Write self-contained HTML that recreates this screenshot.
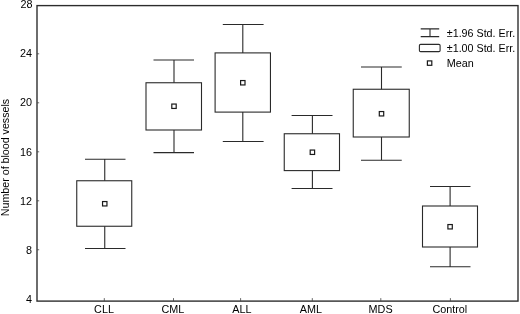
<!DOCTYPE html>
<html><head><meta charset="utf-8"><title>Number of blood vessels</title>
<style>html,body{margin:0;padding:0;background:#fff}svg{display:block}text{font-family:"Liberation Sans",Arial,sans-serif;font-size:10.8px;fill:#000}</style></head>
<body>
<svg width="520" height="314" viewBox="0 0 520 314">
<rect width="520" height="314" fill="#fff"/>
<rect x="37" y="5.6" width="481.0" height="295.50" fill="none" stroke="#2c2c2c" stroke-width="1.38"/>
<g stroke="#444" stroke-width="0.8">
<line x1="37" y1="53.8" x2="39.2" y2="53.8"/>
<line x1="37" y1="102.8" x2="39.2" y2="102.8"/>
<line x1="37" y1="151.8" x2="39.2" y2="151.8"/>
<line x1="37" y1="200.8" x2="39.2" y2="200.8"/>
<line x1="37" y1="249.75" x2="39.2" y2="249.75"/>
<line x1="104.3" y1="301.1" x2="104.3" y2="298.1"/>
<line x1="173.5" y1="301.1" x2="173.5" y2="298.1"/>
<line x1="240.6" y1="301.1" x2="240.6" y2="298.1"/>
<line x1="312.3" y1="301.1" x2="312.3" y2="298.1"/>
<line x1="380.8" y1="301.1" x2="380.8" y2="298.1"/>
<line x1="450.4" y1="301.1" x2="450.4" y2="298.1"/>
</g>
<g text-anchor="end">
<text x="32.6" y="8.00">28</text>
<text x="32" y="56.80">24</text>
<text x="32" y="106.10">20</text>
<text x="32" y="156.00">16</text>
<text x="32" y="204.70">12</text>
<text x="32" y="254.00">8</text>
<text x="32" y="303.30">4</text>
</g>
<text transform="translate(9.1,157.5) rotate(-90)" text-anchor="middle" textLength="117.3" lengthAdjust="spacingAndGlyphs">Number of blood vessels</text>
<g text-anchor="middle">
<text x="104.0" y="313">CLL</text>
<text x="172.9" y="313">CML</text>
<text x="241.8" y="313">ALL</text>
<text x="310.8" y="313">AML</text>
<text x="380.6" y="313">MDS</text>
<text x="449.8" y="313">Control</text>
</g>
<g fill="none" stroke="#2a2a2a" stroke-width="1.1">
<path d="M85 159.25H125.5M104.75 159.25V180.75M104.75 226.25V248.5M85 248.5H125.5"/>
<rect x="76.75" y="180.75" width="55.00" height="45.50"/>
<path d="M153.5 60H194M174 60V82.75M174 130V152.6M153.5 152.6H194"/>
<rect x="146" y="82.75" width="55.50" height="47.25"/>
<path d="M222.8 24.5H263.6M242.8 24.5V52.9M242.8 112.1V141.5M222.8 141.5H263.6"/>
<rect x="215.1" y="52.9" width="55.35" height="59.20"/>
<path d="M291.6 115.5H332.5M312.4 115.5V133.75M312.4 170.6V188.5M291.6 188.5H332.5"/>
<rect x="284.25" y="133.75" width="55.25" height="36.85"/>
<path d="M361 67H401.75M381.5 67V89.25M381.5 137V160.25M361 160.25H401.75"/>
<rect x="353.25" y="89.25" width="56.00" height="47.75"/>
<path d="M430 186.5H470.5M450.1 186.5V206M450.1 247V266.75M430 266.75H470.5"/>
<rect x="422.5" y="206" width="55.00" height="41.00"/>
</g>
<g fill="#fff" stroke="#1a1a1a" stroke-width="1.2">
<rect x="102.55" y="201.55" width="4.4" height="4.4"/>
<rect x="171.80" y="104.05" width="4.4" height="4.4"/>
<rect x="240.60" y="80.55" width="4.4" height="4.4"/>
<rect x="310.20" y="150.05" width="4.4" height="4.4"/>
<rect x="379.30" y="111.55" width="4.4" height="4.4"/>
<rect x="447.90" y="224.55" width="4.4" height="4.4"/>
<rect x="427.4" y="60.9" width="4.4" height="4.4"/>
</g>
<g fill="none" stroke="#2a2a2a" stroke-width="1.1">
<path d="M420.7 28.9H439.2M430 28.9V36.6M420.7 36.6H439.2"/>
<rect x="419.4" y="44.4" width="20.7" height="7.2" rx="1.2"/>
</g>
<text x="446.8" y="37" textLength="68.4" lengthAdjust="spacingAndGlyphs">±1.96 Std. Err.</text>
<text x="446.8" y="51.8" textLength="68.4" lengthAdjust="spacingAndGlyphs">±1.00 Std. Err.</text>
<text x="446.8" y="66.6">Mean</text>
</svg>
</body></html>
